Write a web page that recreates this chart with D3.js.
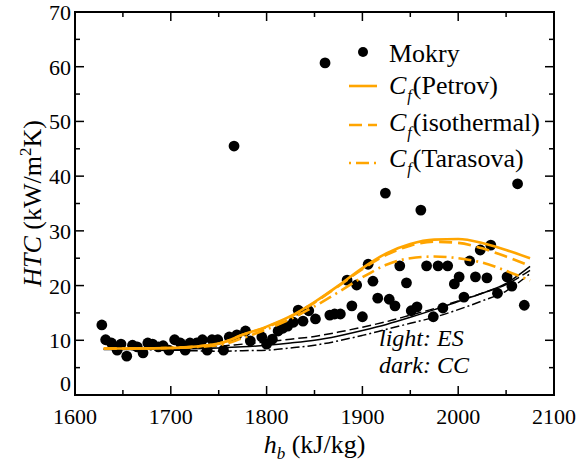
<!DOCTYPE html>
<html><head><meta charset="utf-8">
<script src="https://cdn.jsdelivr.net/npm/d3@7"></script>
<style>body{margin:0;background:#fff} svg text{font-family:'Liberation Serif','DejaVu Serif','Times New Roman',serif;}</style>
</head><body><svg id="c" width="581" height="467"></svg>
<script>
// ---- data ----
const mokryX = [1628,1632,1638,1644,1648,1654,1660,1665,1671,1676,1681,1687,1692,1698,1704,1710,1715,1720,1727,1733,1738,1743,1749,1755,1761,1766,1769,1778,1783,1795,1800,1806,1812,1817,1822,1828,1833,1838,1844,1851,1861,1866,1871,1877,1884,1889,1894,1900,1906,1911,1916,1924,1928,1934,1939,1946,1951,1957,1961,1967,1974,1979,1984,1989,1996,2001,2006,2012,2018,2023,2030,2034,2041,2051,2056,2062,2069];
const mokryY = [12.8,10.1,9.5,8.2,9.3,7.1,9.1,8.8,7.7,9.5,9.3,8.8,9.0,8.2,10.1,9.5,8.2,9.5,9.5,10.1,8.2,10.1,10.1,8.2,10.6,45.5,11.0,11.7,9.9,10.6,9.3,10.2,11.7,12.2,12.6,13.3,15.5,13.5,15.4,13.9,60.7,14.6,14.8,14.8,21.0,16.3,20.1,14.3,23.9,20.8,17.7,36.9,17.5,16.3,23.6,20.5,15.4,16.1,33.8,23.6,14.3,23.6,15.9,23.6,20.3,21.6,17.9,24.5,21.6,26.5,21.4,27.4,18.6,21.6,19.9,38.6,16.4];
const curveX      = [1630,1650,1700,1750,1775,1800,1825,1850,1875,1900,1925,1950,1975,2000,2025,2050,2075];
const esPetrov    = [8.5,8.5,8.6,9.4,11.0,12.5,14.4,17.0,20.0,23.2,25.9,27.6,28.4,28.5,27.8,26.5,25.0];
const esIsotherm  = [8.5,8.5,8.6,9.4,11.0,12.4,14.3,16.9,19.9,23.0,25.6,27.3,28.0,27.8,26.8,25.3,23.6];
const esTarasova  = [8.5,8.5,8.6,9.1,10.4,12.0,13.9,16.2,18.8,21.5,23.8,25.0,25.3,25.0,24.2,22.7,20.9];
const ccPetrov    = [8.4,8.4,8.4,8.6,8.8,9.1,9.5,10.0,10.8,11.8,12.9,14.2,15.6,17.1,18.6,20.4,23.5];
const ccIsotherm  = [8.4,8.4,8.5,8.9,9.3,9.7,10.2,10.7,11.5,12.4,13.4,14.6,15.8,17.2,18.6,20.2,22.8];
const ccTarasova  = [8.3,8.3,8.2,8.0,8.1,8.2,8.6,9.1,9.9,10.9,12.0,13.1,14.2,15.6,17.2,19.0,22.2];
const xTicks = [1600,1700,1800,1900,2000,2100];
const yTicks = [0,10,20,30,40,50,60,70];
const legendNames = ["Mokry","(Petrov)","(isothermal)","(Tarasova)"];
const annot = ["light: ES","dark: CC"];

// ---- layout ----
const L=75,R=554,T=12,B=395;
const ORANGE='#ffa500';
const svg=d3.select('#c');
const x=d3.scaleLinear().domain([1600,2100]).range([L,R]);
const y=d3.scaleLinear().domain([0,70]).range([B,T]);

svg.append('defs').append('clipPath').attr('id','clip')
  .append('rect').attr('x',L).attr('y',T).attr('width',R-L).attr('height',B-T);

// points
svg.append('g').selectAll('circle').data(mokryX.map((v,i)=>[v,mokryY[i]])).join('circle')
  .attr('cx',d=>x(d[0])).attr('cy',d=>y(d[1])).attr('r',5.4).attr('fill','#000');

// curves
const line=d3.line().x(d=>x(d[0])).y(d=>y(d[1])).curve(d3.curveMonotoneX);
const curves=[
  {v:ccPetrov,c:'#000',w:1.5,dash:null},
  {v:ccIsotherm,c:'#000',w:1.5,dash:'9,4'},
  {v:ccTarasova,c:'#000',w:1.5,dash:'9,3,2,3'},
  {v:esTarasova,c:ORANGE,w:2.6,dash:'13,5,2,5'},
  {v:esIsotherm,c:ORANGE,w:2.6,dash:'13,6'},
  {v:esPetrov,c:ORANGE,w:2.6,dash:null},
];
const cg=svg.append('g').attr('clip-path','url(#clip)');
curves.forEach(s=>{
  cg.append('path').datum(curveX.map((v,i)=>[v,s.v[i]])).attr('d',line)
    .attr('fill','none').attr('stroke',s.c).attr('stroke-width',s.w)
    .attr('stroke-dasharray',s.dash);
});

// ticks (inward, mirrored on all sides)
const xMinor=d3.range(1600,2101,50), yMinor=d3.range(0,71,5);
const tg=svg.append('g').attr('stroke','#000').attr('stroke-width',1.5);
xMinor.forEach(v=>{
  const len = (v%100===0)?9:5;
  tg.append('line').attr('x1',x(v)).attr('x2',x(v)).attr('y1',B).attr('y2',B-len);
  tg.append('line').attr('x1',x(v)).attr('x2',x(v)).attr('y1',T).attr('y2',T+len);
});
yMinor.forEach(v=>{
  const len = (v%10===0)?9:5;
  tg.append('line').attr('y1',y(v)).attr('y2',y(v)).attr('x1',L).attr('x2',L+len);
  tg.append('line').attr('y1',y(v)).attr('y2',y(v)).attr('x1',R).attr('x2',R-len);
});
svg.append('rect').attr('x',L).attr('y',T).attr('width',R-L).attr('height',B-T)
  .attr('fill','none').attr('stroke','#000').attr('stroke-width',2);

// tick labels
svg.append('g').selectAll('text').data(xTicks).join('text')
  .attr('x',d=>x(d)).attr('y',B+29).attr('text-anchor','middle')
  .attr('font-size',22).text(d=>d);
svg.append('g').selectAll('text').data(yTicks).join('text')
  .attr('x',L-4).attr('y',d=>y(d)+(d===0?-4:8)).attr('text-anchor','end')
  .attr('font-size',22).text(d=>d);

// axis titles
const xt=svg.append('text').attr('x',(L+R)/2).attr('y',453).attr('text-anchor','middle')
  .attr('font-size',26);
xt.append('tspan').attr('font-style','italic').text('h');
xt.append('tspan').attr('font-style','italic').attr('font-size',17).attr('dy',6).text('b');
xt.append('tspan').attr('dy',-6).text(' (kJ/kg)');

const yt=svg.append('text').attr('transform',`translate(41,${(T+B)/2}) rotate(-90)`)
  .attr('text-anchor','middle').attr('font-size',26);
yt.append('tspan').attr('font-style','italic').text('HTC');
yt.append('tspan').text(' (kW/m');
yt.append('tspan').attr('font-size',17).attr('dy',-10).text('2');
yt.append('tspan').attr('dy',10).text('K)');

// legend
const lg=svg.append('g').attr('font-size',26);
lg.append('circle').attr('cx',363).attr('cy',52).attr('r',5).attr('fill','#000');
lg.append('text').attr('x',389).attr('y',62).text(legendNames[0]);
const legRows=[{yl:86,yb:94,dash:null},{yl:125,yb:131,dash:'13,6'},{yl:163,yb:167,dash:'2,5,13,5'}];
legRows.forEach((r,i)=>{
  lg.append('line').attr('x1',349).attr('x2',377).attr('y1',r.yl).attr('y2',r.yl)
    .attr('stroke',ORANGE).attr('stroke-width',2.6).attr('stroke-dasharray',r.dash);
  const t=lg.append('text').attr('x',389).attr('y',r.yb);
  t.append('tspan').attr('font-style','italic').text('C');
  t.append('tspan').attr('font-style','italic').attr('font-size',16).attr('dy',7).attr('dx',1).text('f');
  t.append('tspan').attr('dy',-7).attr('dx',1).text(legendNames[i+1]);
});

// annotation
const an=svg.append('g').attr('font-size',24).attr('font-style','italic');
an.append('text').attr('x',379).attr('y',346).text(annot[0]);
an.append('text').attr('x',379).attr('y',373).text(annot[1]);
</script></body></html>
